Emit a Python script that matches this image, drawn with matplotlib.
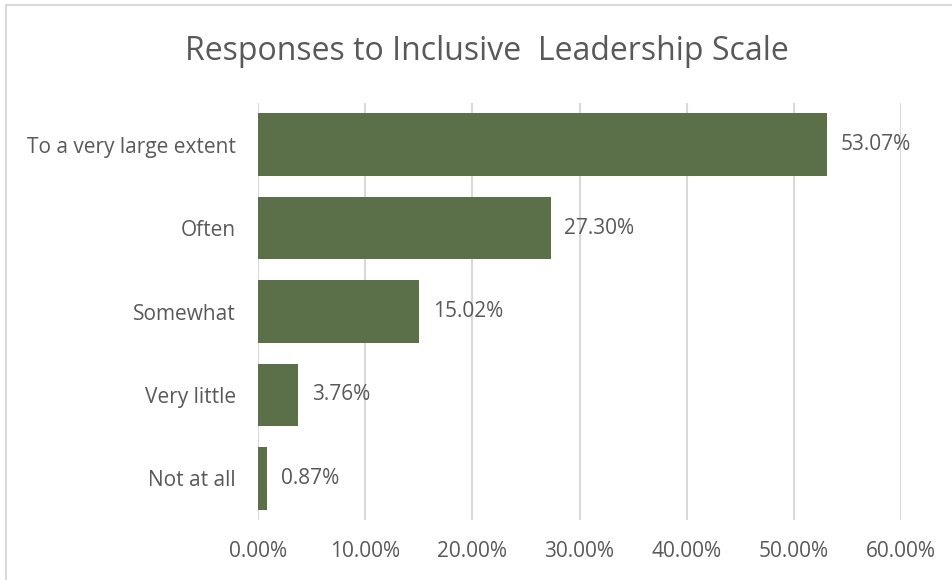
import matplotlib
matplotlib.use("Agg")
import matplotlib.pyplot as plt
from matplotlib.patches import Rectangle
from matplotlib.ticker import FuncFormatter

categories = ["To a very large extent", "Often", "Somewhat", "Very little", "Not at all"]
values = [53.07, 27.30, 15.02, 3.76, 0.87]
xticks = [0, 10, 20, 30, 40, 50, 60]

plt.rcParams['font.family'] = ['Open Sans', 'DejaVu Sans']
bar_color = "#5B7049"
text_color = "#595959"
grid_color = "#D9D9D9"

fig = plt.figure(figsize=(9.52, 5.8), dpi=100)
fig.patches.append(Rectangle((6 / 952, -0.05), 1.2, 1 - 5 / 580 + 0.05,
                             transform=fig.transFigure, fill=False,
                             edgecolor=grid_color, linewidth=1.5))

ax = fig.add_axes([258 / 952, 1 - 520 / 580, (901 - 258) / 952, (520 - 103) / 580])
ypos = list(range(len(categories)))
ax.barh(ypos, values, height=0.75, color=bar_color, zorder=3)
ax.set_ylim(len(categories) - 0.5, -0.5)
ax.set_xlim(0, 60)
ax.set_xticks(xticks)
ax.xaxis.set_major_formatter(FuncFormatter(lambda v, p: f"{v:.2f}%"))
ax.set_yticks(ypos)
ax.set_yticklabels(categories)
ax.tick_params(axis='both', length=0, labelsize=15, colors=text_color)
ax.tick_params(axis='x', pad=15)
ax.tick_params(axis='y', pad=16)
ax.grid(axis='x', color=grid_color, linewidth=1.5, zorder=0)
for s in ax.spines.values():
    s.set_visible(False)

for y, v in zip(ypos, values):
    ax.text(v + 1.3, y, f"{v:.2f}%", va='center', ha='left',
            fontsize=15, color=text_color, zorder=4)

fig.text(487 / 952, 1 - 52 / 580, "Responses to Inclusive  Leadership Scale",
         ha='center', va='center', fontsize=23, color=text_color)

fig.savefig("out.png", dpi=100)
